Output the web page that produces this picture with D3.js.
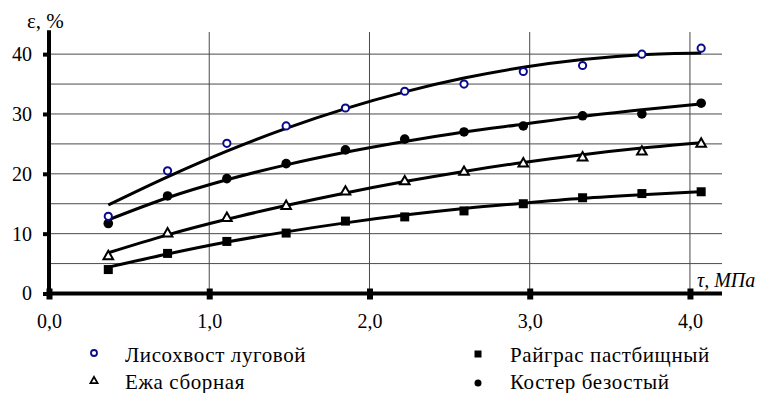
<!DOCTYPE html>
<html>
<head>
<meta charset="utf-8">
<script src="https://cdn.jsdelivr.net/npm/d3@7"></script>
<style>
  body { margin: 0; background: #fff; }
</style>
</head>
<body>
<div id="chart"></div>
<script>
// tau, MPa
const tau = [0.37, 0.74, 1.11, 1.48, 1.85, 2.22, 2.59, 2.96, 3.33, 3.70, 4.07];

// measured points, %
const lisohvost = [12.9, 20.5, 25.1, 28.0, 31.0, 33.8, 35.0, 37.1, 38.1, 40.0, 41.0];
const kostr     = [11.7, 16.3, 19.2, 21.7, 24.0, 25.8, 27.0, 28.0, 29.7, 30.0, 31.8];
const ezha      = [6.2, 10.0, 12.6, 14.6, 17.0, 18.7, 20.3, 21.7, 22.7, 23.7, 25.0];
const raigras   = [4.0, 6.7, 8.7, 10.1, 12.1, 12.8, 13.8, 15.0, 16.0, 16.7, 17.0];

// trend lines
const lisohvostTrend = [14.8, 19.5, 23.8, 27.6, 30.9, 33.7, 36.0, 37.8, 39.1, 39.9, 40.2];
const kostrTrend     = [12.3, 16.0, 19.0, 21.5, 23.6, 25.4, 27.0, 28.3, 29.6, 30.7, 31.7];
const ezhaTrend      = [6.8, 9.8, 12.4, 14.7, 16.8, 18.7, 20.4, 21.9, 23.2, 24.3, 25.2];
const raigrasTrend   = [4.4, 6.6, 8.6, 10.3, 11.8, 13.1, 14.2, 15.1, 15.9, 16.5, 17.0];

const xTicks = [0, 1, 2, 3, 4];
const yTicks = [0, 10, 20, 30, 40];
const yGrid = [5, 10, 15, 20, 25, 30, 35, 40];

const W = 776, H = 393;
const blue = "#0a0a8c";
const serif = "'Liberation Serif', 'Times New Roman', 'DejaVu Serif', serif";

const svg = d3.select("#chart").append("svg")
    .attr("width", W)
    .attr("height", H);

const x = d3.scaleLinear().domain([0, 4.2]).range([49, 722]);
const y = d3.scaleLinear().domain([0, 44]).range([293.5, 30.2]);

// grid
svg.append("g").selectAll("line")
    .data(yGrid)
    .enter().append("line")
    .attr("x1", x(0)).attr("x2", x(4.2))
    .attr("y1", d => y(d)).attr("y2", d => y(d))
    .style("stroke", "#4a4a4a").style("stroke-width", 1);
svg.append("g").selectAll("line")
    .data(xTicks.slice(1))
    .enter().append("line")
    .attr("x1", d => x(d)).attr("x2", d => x(d))
    .attr("y1", y(43.7)).attr("y2", y(0))
    .style("stroke", "#4a4a4a").style("stroke-width", 1);

// axes
const fmt = d => d3.format(".1f")(d).replace(".", ",");
const xAxis = svg.append("g")
    .attr("transform", "translate(0," + y(0) + ")")
    .call(d3.axisBottom(x).tickValues(xTicks).tickSize(6).tickPadding(14).tickFormat(fmt));
xAxis.select(".domain").remove();
xAxis.selectAll(".tick line").attr("y1", -5).attr("y2", 6).style("stroke", "#000").style("stroke-width", 6);
xAxis.selectAll("text").style("font-family", serif).style("font-size", "20px").style("fill", "#000");
svg.append("line")
    .attr("x1", x(0) - 2).attr("x2", x(4.2))
    .attr("y1", y(0)).attr("y2", y(0))
    .style("stroke", "#000").style("stroke-width", 4);

const yAxis = svg.append("g")
    .attr("transform", "translate(" + x(0) + ",0)")
    .call(d3.axisLeft(y).tickValues(yTicks).tickSize(6).tickPadding(11));
yAxis.select(".domain").remove();
yAxis.selectAll(".tick line").style("stroke", "#000").style("stroke-width", 4);
yAxis.selectAll("text").style("font-family", serif).style("font-size", "20px").style("fill", "#000");
svg.append("line")
    .attr("x1", x(0)).attr("x2", x(0))
    .attr("y1", y(44)).attr("y2", y(0) + 2)
    .style("stroke", "#000").style("stroke-width", 4);

// axis titles
svg.append("text")
    .attr("x", 27).attr("y", 28)
    .style("font-family", serif)
    .style("font-size", "21px")
    .text("ε, %");
svg.append("text")
    .attr("x", 697).attr("y", 287)
    .style("font-family", serif)
    .style("font-size", "20px").style("font-style", "italic")
    .text("τ, МПа");

// trend lines
const line = d3.line()
    .x((d, i) => x(tau[i]))
    .y(d => y(d))
    .curve(d3.curveMonotoneX);
[lisohvostTrend, kostrTrend, ezhaTrend, raigrasTrend].forEach(t => {
    svg.append("path")
        .datum(t)
        .attr("d", line)
        .style("fill", "none")
        .style("stroke", "#000")
        .style("stroke-width", 3);
});

// markers
svg.append("g").selectAll("rect")
    .data(raigras)
    .enter().append("rect")
    .attr("x", (d, i) => x(tau[i]) - 4.5)
    .attr("y", d => y(d) - 4.5)
    .attr("width", 9).attr("height", 9)
    .style("fill", "#000");

const tri = d3.symbol().type(d3.symbolTriangle).size(40);
svg.append("g").selectAll("path")
    .data(ezha)
    .enter().append("path")
    .attr("d", tri)
    .attr("transform", (d, i) => "translate(" + x(tau[i]) + "," + y(d) + ")")
    .style("fill", "#fff").style("stroke", "#000").style("stroke-width", 2);

svg.append("g").selectAll("circle")
    .data(kostr)
    .enter().append("circle")
    .attr("cx", (d, i) => x(tau[i]))
    .attr("cy", d => y(d))
    .attr("r", 4.8)
    .style("fill", "#000");

svg.append("g").selectAll("circle")
    .data(lisohvost)
    .enter().append("circle")
    .attr("cx", (d, i) => x(tau[i]))
    .attr("cy", d => y(d))
    .attr("r", 3.6)
    .style("fill", "#fff").style("stroke", blue).style("stroke-width", 2);

// legend
const legend = svg.append("g");
const lg = [
    { name: "Лисохвост луговой", mark: "open", lx: 94, ly: 353 },
    { name: "Ежа сборная", mark: "tri", lx: 94, ly: 381 },
    { name: "Райграс пастбищный", mark: "square", lx: 478, ly: 354 },
    { name: "Костер безостый", mark: "dot", lx: 478, ly: 383 }
];
lg.forEach(d => {
    if (d.mark === "open") {
        legend.append("circle").attr("cx", d.lx).attr("cy", d.ly).attr("r", 3)
            .style("fill", "#fff").style("stroke", blue).style("stroke-width", 1.8);
    } else if (d.mark === "tri") {
        legend.append("path").attr("d", d3.symbol().type(d3.symbolTriangle).size(22))
            .attr("transform", "translate(" + d.lx + "," + d.ly + ")")
            .style("fill", "#fff").style("stroke", "#000").style("stroke-width", 1.8);
    } else if (d.mark === "square") {
        legend.append("rect").attr("x", d.lx - 3.5).attr("y", d.ly - 3.5)
            .attr("width", 7).attr("height", 7).style("fill", "#000");
    } else {
        legend.append("circle").attr("cx", d.lx).attr("cy", d.ly).attr("r", 3.5)
            .style("fill", "#000");
    }
    legend.append("text")
        .attr("x", (d.lx < 300 ? 125 : 510))
        .attr("y", (d.ly < 370 ? 362 : 389))
        .style("font-family", serif)
        .style("font-size", "21px")
        .style("letter-spacing", "0.6px")
        .text(d.name);
});
</script>
</body>
</html>
